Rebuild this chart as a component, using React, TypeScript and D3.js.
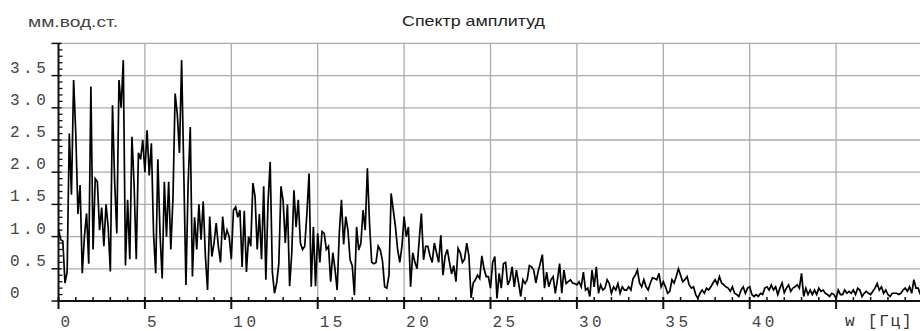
import React, { useMemo } from "react";
import * as d3 from "d3";

// Amplitude spectrum, sampled every 0.125 Hz, one array per 5 Hz band
const FREQ_STEP = 0.125;

const band00to05 = [
  1.12, 0.95, 0.93, 0.28, 0.45, 2.6, 1.65, 3.43, 2.6, 1.35,
  1.8, 0.43, 1.0, 1.36, 0.58, 3.33, 0.8, 1.9, 1.85, 1.1,
  1.45, 0.85, 1.5, 1.15, 0.46, 3.04, 1.85, 1.05, 3.43, 3.0,
  3.74, 0.55, 1.57, 0.65, 2.55, 1.8, 0.65, 2.3, 2.2, 2.5,
];
const band05to10 = [
  2.0, 2.65, 1.95, 2.45, 1.05, 0.43, 2.2, 1.05, 0.35, 1.85,
  1.0, 1.85, 0.8, 1.6, 3.22, 2.9, 2.3, 3.74, 2.0, 0.25,
  1.8, 2.7, 0.38, 1.3, 0.8, 1.5, 0.95, 1.55, 0.7, 0.17,
  1.31, 0.69, 0.9, 1.21, 0.85, 0.6, 1.31, 0.95, 1.1, 1.0,
];
const band10to15 = [
  0.65, 1.41, 1.46, 1.3, 1.41, 0.53, 1.4, 0.45, 1.0, 0.85,
  1.83, 1.62, 0.8, 1.35, 0.65, 1.78, 0.33, 1.52, 2.16, 0.45,
  0.12, 0.28, 0.58, 1.78, 1.55, 0.9, 1.5, 0.23, 0.75, 1.72,
  1.15, 1.57, 0.9, 0.8, 0.85, 1.36, 1.98, 0.22, 1.15, 0.23,
];
const band15to20 = [
  1.05, 0.6, 1.08, 1.05, 0.8, 0.85, 0.3, 0.75, 0.5, 0.17,
  1.05, 1.57, 0.88, 1.31, 1.1, 0.64, 0.55, 0.09, 1.15, 0.79,
  0.9, 1.41, 1.1, 2.06, 1.2, 0.6, 0.58, 0.6, 0.85, 0.79,
  0.62, 0.22, 0.2, 0.4, 1.67, 1.41, 1.15, 0.8, 0.6, 0.85,
];
const band20to25 = [
  1.31, 1.0, 1.15, 0.22, 0.75, 0.6, 0.5, 0.95, 1.36, 0.64,
  0.85, 0.85, 0.7, 0.6, 0.9, 0.75, 0.6, 1.02, 0.4, 0.7,
  0.8, 0.6, 0.42, 0.55, 0.3, 0.82, 0.75, 0.6, 0.65, 0.9,
  0.7, 0.05, 0.28, 0.33, 0.4, 0.35, 0.7, 0.5, 0.38, 0.38,
];
const band25to30 = [
  0.2, 0.6, 0.69, 0.04, 0.43, 0.2, 0.58, 0.6, 0.25, 0.33,
  0.53, 0.22, 0.48, 0.28, 0.07, 0.33, 0.27, 0.33, 0.55, 0.53,
  0.48, 0.28, 0.45, 0.58, 0.72, 0.2, 0.45, 0.22, 0.33, 0.38,
  0.12, 0.33, 0.58, 0.12, 0.48, 0.27, 0.3, 0.33, 0.28, 0.27,
];
const band30to35 = [
  0.25, 0.3, 0.22, 0.45, 0.17, 0.2, 0.07, 0.48, 0.22, 0.53,
  0.12, 0.25, 0.17, 0.2, 0.33, 0.27, 0.12, 0.22, 0.17, 0.27,
  0.12, 0.22, 0.17, 0.17, 0.22, 0.17, 0.35, 0.4, 0.48, 0.28,
  0.22, 0.33, 0.22, 0.17, 0.28, 0.36, 0.35, 0.33, 0.43, 0.22,
];
const band35to40 = [
  0.3, 0.22, 0.12, 0.15, 0.33, 0.28, 0.38, 0.5, 0.4, 0.3,
  0.33, 0.38, 0.25, 0.2, 0.22, 0.1, 0.04, 0.12, 0.17, 0.12,
  0.2, 0.17, 0.22, 0.28, 0.33, 0.26, 0.38, 0.28, 0.25, 0.22,
  0.2, 0.15, 0.22, 0.12, 0.1, 0.07, 0.17, 0.22, 0.12, 0.2,
];
const band40to45 = [
  0.22, 0.1, 0.07, 0.1, 0.07, 0.12, 0.1, 0.2, 0.22, 0.17,
  0.25, 0.17, 0.22, 0.1, 0.2, 0.28, 0.13, 0.2, 0.25, 0.15,
  0.2, 0.22, 0.25, 0.2, 0.43, 0.07, 0.2, 0.1, 0.17, 0.1,
  0.17, 0.1, 0.2, 0.15, 0.17, 0.12, 0.1, 0.07, 0.12, 0.1,
];
const band45to50 = [
  0.04, 0.17, 0.1, 0.1, 0.17, 0.12, 0.15, 0.12, 0.17, 0.1,
  0.2, 0.17, 0.07, 0.12, 0.15, 0.12, 0.1, 0.15, 0.2, 0.27,
  0.17, 0.22, 0.12, 0.17, 0.1, 0.07, 0.12, 0.12, 0.12, 0.1,
  0.12, 0.17, 0.2, 0.15, 0.22, 0.12, 0.33, 0.2, 0.2, 0.1,
];

const xTickValues = [0, 5, 10, 15, 20, 25, 30, 35, 40];
const xTickLabels = ["0", "5", "10", "15", "20", "25", "30", "35", "40"];
const xGridValues = [5, 10, 15, 20, 25, 30, 35, 40, 45];
const yTickValues = [0, 0.5, 1.0, 1.5, 2.0, 2.5, 3.0, 3.5];
const yTickLabels = ["0", "0.5", "1.0", "1.5", "2.0", "2.5", "3.0", "3.5"];
const yGridValues = [0.5, 1.0, 1.5, 2.0, 2.5, 3.0, 3.5, 4.0];

const TITLE = "Спектр амплитуд";
const Y_UNIT = "мм.вод.ст.";
const X_UNIT = "w [Гц]";

const W = 920;
const H = 331;

export default function App() {
  const amplitudes = useMemo(
    () => [
      ...band00to05, ...band05to10, ...band10to15, ...band15to20, ...band20to25,
      ...band25to30, ...band30to35, ...band35to40, ...band40to45, ...band45to50,
    ],
    []
  );

  const x = d3.scaleLinear().domain([0, 50]).range([58.5, 922.5]);
  const y = d3.scaleLinear().domain([0, 4]).range([301, 43.4]);

  const points: [number, number][] = amplitudes.map((a, i) => [i * FREQ_STEP, a]);
  const line = d3
    .line<[number, number]>()
    .x((d) => x(d[0]))
    .y((d) => y(d[1]));

  const minorY = d3.range(0, 40).map((k) => k / 10).filter((v) => Math.round(v * 10) % 5 !== 0);
  const minorX = d3.range(1, 50).filter((v) => v % 5 !== 0);

  const x0 = x(0);
  const y0 = y(0);
  const monoFont = "'Liberation Mono', 'DejaVu Sans Mono', monospace";
  const sansFont = "'Liberation Sans', Arial, sans-serif";

  return (
    <svg
      width={W}
      height={H}
      viewBox={`0 0 ${W} ${H}`}
      style={{ position: "absolute", left: 0, top: 0, background: "#fff" }}
    >
      <rect x={0} y={0} width={W} height={H} fill="#fff" />

      {/* grid */}
      <g stroke="#ababab" strokeWidth={1.3}>
        {yGridValues.map((v) => (
          <line key={`gy${v}`} x1={x0} x2={W} y1={y(v)} y2={y(v)} />
        ))}
        {xGridValues.map((v) => (
          <line key={`gx${v}`} x1={x(v)} x2={x(v)} y1={y(4)} y2={y0} />
        ))}
      </g>

      {/* spectrum */}
      <path d={line(points) ?? ""} fill="none" stroke="#000" strokeWidth={1.7} strokeLinejoin="miter" />

      {/* y axis */}
      <g stroke="#111">
        <line x1={x0} x2={x0} y1={y(4)} y2={y0} strokeWidth={2} />
        {[...yTickValues, 4].map((v) => (
          <line key={`yt${v}`} x1={x0 - 7} x2={x0 + 3} y1={y(v)} y2={y(v)} strokeWidth={1.5} />
        ))}
        {minorY.map((v) => (
          <line key={`ym${v}`} x1={x0} x2={x0 + 4} y1={y(v)} y2={y(v)} strokeWidth={1.3} />
        ))}
      </g>

      {/* x axis */}
      <g stroke="#111">
        <line x1={x0} x2={W} y1={y0} y2={y0} strokeWidth={2} />
        {[0, ...xGridValues].map((v) => (
          <line key={`xt${v}`} x1={x(v)} x2={x(v)} y1={y0 - 4} y2={y0 + 8} strokeWidth={2} />
        ))}
        {minorX.map((v) => (
          <line key={`xm${v}`} x1={x(v)} x2={x(v)} y1={y0 - 4} y2={y0} strokeWidth={1.5} />
        ))}
      </g>

      {/* tick labels */}
      <g fill="#444" fontFamily={monoFont} fontSize={16} letterSpacing={3.5}>
        {yTickValues.map((v, i) => (
          <text key={`yl${v}`} x={10} y={y(v) - 3}>
            {yTickLabels[i]}
          </text>
        ))}
        {xTickValues.map((v, i) => (
          <text key={`xl${v}`} x={x(v) + 2} y={327}>
            {xTickLabels[i]}
          </text>
        ))}
      </g>

      <text x={845} y={326} fill="#333" fontFamily={monoFont} fontSize={16} letterSpacing={1.8}>
        {X_UNIT}
      </text>

      <text
        x={28}
        y={27}
        fill="#444"
        fontFamily={sansFont}
        fontSize={14}
        textLength={90}
        lengthAdjust="spacingAndGlyphs"
      >
        {Y_UNIT}
      </text>

      <text
        x={402}
        y={26}
        fill="#222"
        fontFamily={sansFont}
        fontSize={15}
        textLength={143}
        lengthAdjust="spacingAndGlyphs"
      >
        {TITLE}
      </text>
    </svg>
  );
}
